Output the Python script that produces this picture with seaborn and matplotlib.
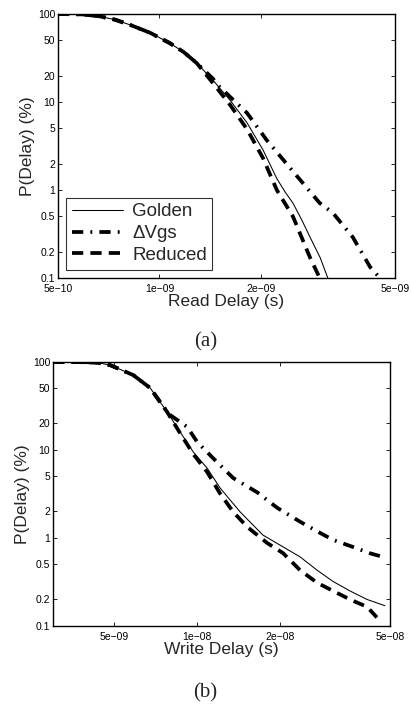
import numpy as np
import pandas as pd
import matplotlib
matplotlib.use("Agg")
import matplotlib.pyplot as plt
from matplotlib.ticker import FixedLocator, FixedFormatter, NullLocator
import seaborn as sns

# ---- read delay (panel a) ----
read_golden_x = [5.0e-10, 5.9e-10, 6.66e-10, 7.4e-10, 8.2e-10, 9.4e-10, 1.07e-9, 1.18e-9, 1.29e-9,
                 1.44e-9, 1.62e-9, 1.82e-9, 2.03e-9, 2.23e-9, 2.36e-9, 2.49e-9, 2.65e-9, 2.80e-9,
                 3.0e-9, 3.16e-9]
read_golden_p = [100, 99, 94, 86, 75, 61, 47, 37, 27.7,
                 17.8, 10.5, 5.8, 2.85, 1.35, 0.95, 0.71, 0.45, 0.29,
                 0.17, 0.1]
read_vgs_x = [5.0e-10, 5.9e-10, 6.66e-10, 7.4e-10, 8.2e-10, 9.4e-10, 1.07e-9, 1.18e-9, 1.29e-9,
              1.44e-9, 1.51e-9, 1.82e-9, 2.08e-9, 2.5e-9, 2.99e-9, 3.27e-9, 3.75e-9, 4.22e-9, 4.51e-9]
read_vgs_p = [100, 99, 94, 86, 75, 61, 47, 37, 27.7,
              18.5, 14.8, 7.5, 3.7, 1.6, 0.71, 0.55, 0.29, 0.133, 0.1]
read_red_x = [5.0e-10, 5.9e-10, 6.66e-10, 7.4e-10, 8.2e-10, 9.4e-10, 1.07e-9, 1.18e-9, 1.29e-9,
              1.44e-9, 1.62e-9, 1.82e-9, 2.03e-9, 2.23e-9, 2.49e-9, 2.8e-9, 2.99e-9]
read_red_p = [100, 99, 94, 86, 75, 61, 47, 37, 27.7,
              16.5, 9.3, 4.9, 2.3, 1.0, 0.5, 0.17, 0.1]

# ---- write delay (panel b) ----
write_golden_x = [3.0e-9, 4.0e-9, 4.45e-9, 4.84e-9, 5.86e-9, 6.75e-9, 7.78e-9, 8.67e-9, 9.67e-9,
                  1.087e-8, 1.21e-8, 1.43e-8, 1.73e-8, 2.05e-8, 2.36e-8, 2.72e-8, 3.11e-8,
                  3.58e-8, 4.13e-8, 4.79e-8]
write_golden_p = [100, 99.5, 97, 92, 71, 50.7, 27, 16, 9.5,
                  6.2, 3.7, 1.98, 1.08, 0.79, 0.61, 0.43, 0.32,
                  0.25, 0.2, 0.17]
write_vgs_x = [3.0e-9, 4.0e-9, 4.45e-9, 4.84e-9, 5.86e-9, 6.75e-9, 7.78e-9, 7.97e-9, 9.19e-9,
               1.0e-8, 1.14e-8, 1.35e-8, 1.65e-8, 1.95e-8, 2.36e-8, 2.79e-8, 3.11e-8,
               3.67e-8, 4.23e-8, 4.79e-8]
write_vgs_p = [100, 99.5, 97, 92, 71, 50.7, 27, 25, 18.3,
               12.3, 8.1, 4.8, 3.3, 2.2, 1.53, 1.14, 0.95,
               0.79, 0.67, 0.6]
write_red_x = [3.0e-9, 4.0e-9, 4.45e-9, 4.84e-9, 5.86e-9, 6.75e-9, 7.78e-9, 8.67e-9, 9.67e-9,
               1.087e-8, 1.21e-8, 1.35e-8, 1.52e-8, 1.79e-8, 2.05e-8, 2.36e-8, 2.72e-8,
               3.11e-8, 3.58e-8, 4.13e-8, 4.48e-8]
write_red_p = [100, 99.5, 97, 92, 71, 50.7, 27, 15.5, 9.0,
               5.6, 3.2, 1.98, 1.33, 0.88, 0.67, 0.43, 0.31,
               0.25, 0.2, 0.165, 0.125]

y_ticks = [0.1, 0.2, 0.5, 1, 2, 5, 10, 20, 50, 100]
y_labels = ["0.1", "0.2", "0.5", "1", "2", "5", "10", "20", "50", "100"]
read_ticks = [5e-10, 1e-9, 2e-9, 5e-9]
read_labels = ["5e\u221210", "1e\u221209", "2e\u221209", "5e\u221209"]
write_ticks = [5e-9, 1e-8, 2e-8, 5e-8]
write_labels = ["5e\u221209", "1e\u221208", "2e\u221208", "5e\u221208"]

sns.set_style("ticks")
plt.rcParams["font.family"] = ["Liberation Sans", "DejaVu Sans"]

fig = plt.figure(figsize=(4.11, 7.07), dpi=100)
ax1 = fig.add_axes([0.141, 0.6068, 0.820, 0.3734])
ax2 = fig.add_axes([0.129, 0.1146, 0.820, 0.3734])

styles = {
    "Golden": dict(linewidth=0.75, linestyle="-"),
    "\u0394Vgs": dict(linewidth=2.7, linestyle=(0, (3.0, 1.9, 0.5, 1.9))),
    "Reduced": dict(linewidth=2.7, linestyle=(0, (3.0, 1.9))),
}

panels = [
    (ax1, [("Golden", read_golden_x, read_golden_p), ("\u0394Vgs", read_vgs_x, read_vgs_p),
           ("Reduced", read_red_x, read_red_p)],
     (5e-10, 5e-9), read_ticks, read_labels, "Read Delay (s)"),
    (ax2, [("Golden", write_golden_x, write_golden_p), ("\u0394Vgs", write_vgs_x, write_vgs_p),
           ("Reduced", write_red_x, write_red_p)],
     (3e-9, 5e-8), write_ticks, write_labels, "Write Delay (s)"),
]

for ax, series, xlim, xt, xl, xlabel in panels:
    for name, xs, ps in series:
        sns.lineplot(x=xs, y=ps, ax=ax, color="black", label=name, **styles[name])
    ax.set_xscale("log")
    ax.set_yscale("log")
    ax.set_xlim(*xlim)
    ax.set_ylim(0.1, 100)
    ax.xaxis.set_major_locator(FixedLocator(xt))
    ax.xaxis.set_major_formatter(FixedFormatter(xl))
    ax.yaxis.set_major_locator(FixedLocator(y_ticks))
    ax.yaxis.set_major_formatter(FixedFormatter(y_labels))
    ax.xaxis.set_minor_locator(NullLocator())
    ax.yaxis.set_minor_locator(NullLocator())
    ax.tick_params(direction="in", length=3, width=0.6, top=True, right=True,
                   labelsize=7.5, colors="black")
    ax.tick_params(axis="y", pad=2)
    ax.tick_params(axis="x", pad=4.5)
    for sp in ax.spines.values():
        sp.set_linewidth(1.0)
        sp.set_color("black")
    ax.set_xlabel(xlabel, fontsize=12.5, labelpad=0)
    ax.set_ylabel("P(Delay) (%)", fontsize=12.5, labelpad=2)

leg = ax1.legend(loc="lower left", fontsize=13.5, frameon=True, fancybox=False,
                 edgecolor="black", handlelength=2.7, handletextpad=0.5,
                 borderpad=0.3, labelspacing=0.25, borderaxespad=0.45)
leg.get_frame().set_linewidth(0.8)
ax2.get_legend().remove()

fig.text(0.5, 1 - 342 / 707, "(a)", ha="center", va="center", fontsize=15,
         family="Liberation Serif")
fig.text(0.5, 1 - 693 / 707, "(b)", ha="center", va="center", fontsize=15,
         family="Liberation Serif")

fig.savefig("out.png", dpi=100, facecolor="white")
